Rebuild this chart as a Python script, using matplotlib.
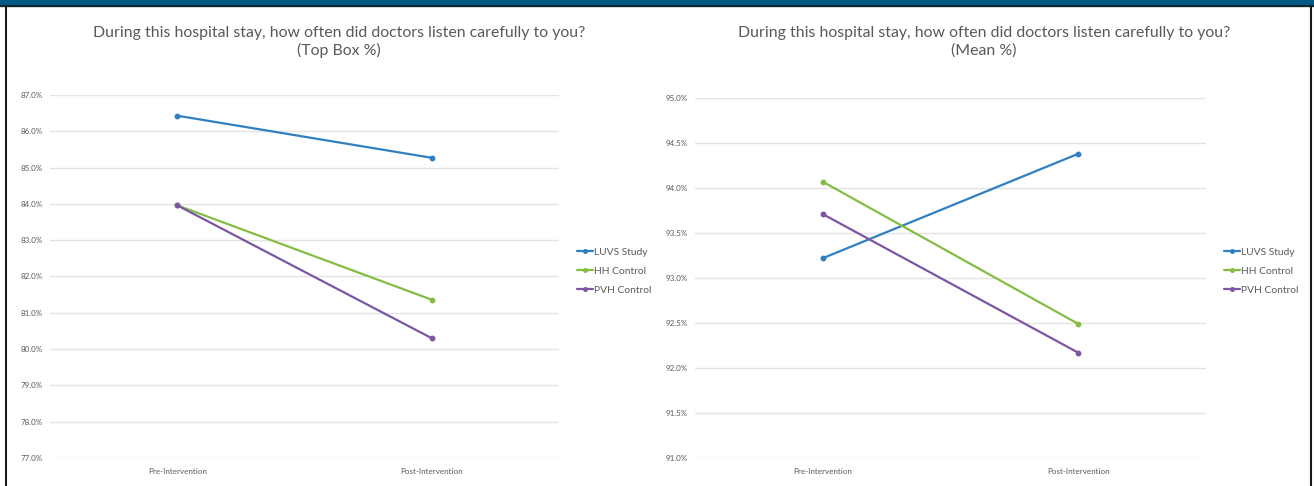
import matplotlib.pyplot as plt
from matplotlib.patches import Rectangle
from matplotlib.lines import Line2D
from matplotlib.ticker import FuncFormatter, MultipleLocator

categories = ["Pre-Intervention", "Post-Intervention"]
series = ["LUVS Study", "HH Control", "PVH Control"]
colors = ["#2f7fc1", "#84bd44", "#7b56a3"]

topbox_luvs = [86.43, 85.27]
topbox_hh = [83.96, 81.36]
topbox_pvh = [83.96, 80.30]

mean_luvs = [93.22, 94.38]
mean_hh = [94.07, 92.49]
mean_pvh = [93.71, 92.17]

question = "During this hospital stay, how often did doctors listen carefully to you?"

plt.rcParams['font.family'] = ['Lato', 'DejaVu Sans']
W, H = 1314, 486
fig = plt.figure(figsize=(W / 100, H / 100), dpi=100)
fig.patch.set_facecolor("white")

# header bar and panel borders
fig.patches.append(Rectangle((0, 1 - 6 / H), 1, 6 / H, transform=fig.transFigure,
                             color="#005a85", zorder=0))
fig.add_artist(Line2D([0, 1], [1 - 6.5 / H] * 2, color="#1a1a1a", lw=1.2))
fig.add_artist(Line2D([5.5 / W] * 2, [0, 1 - 6.5 / H], color="#1a1a1a", lw=1.5))
fig.add_artist(Line2D([1310.5 / W] * 2, [0, 1 - 6.5 / H], color="#1a1a1a", lw=1.5))

gray = "#595959"


def panel(rect, data, lo, hi, step, subtitle, title_x, legend_x):
    ax = fig.add_axes(rect)
    x = range(len(categories))
    for vals, name, c in zip(data, series, colors):
        ax.plot(x, vals, color=c, lw=1.6, marker="o", markersize=3.2, label=name,
                solid_capstyle="round")
    ax.set_xlim(-0.5, 1.5)
    ax.set_ylim(lo, hi)
    ax.yaxis.set_major_locator(MultipleLocator(step))
    ax.yaxis.set_major_formatter(FuncFormatter(lambda v, p: f"{v:.1f}%"))
    ax.set_xticks(list(x))
    ax.set_xticklabels(categories)
    ax.grid(axis="y", color="#e3e3e3", lw=1)
    ax.set_axisbelow(True)
    for s in ax.spines.values():
        s.set_visible(False)
    ax.tick_params(length=0, labelsize=5.8, labelcolor=gray, pad=5)
    ax.tick_params(axis="x", pad=7)
    fig.text(title_x / W, 1 - 42 / H, question + "\n" + subtitle, ha="center", va="center",
             fontsize=11.4, color=gray, linespacing=1.3)
    ax.legend(loc="center left", bbox_to_anchor=(legend_x / W, 1 - 271 / H),
              bbox_transform=fig.transFigure, frameon=False, fontsize=7.4,
              handlelength=1.5, handletextpad=0.15, labelspacing=0.95, borderpad=0,
              labelcolor=gray, markerscale=0.8)
    return ax


panel([50 / W, 1 - 458 / H, 509 / W, 363 / H],
      [topbox_luvs, topbox_hh, topbox_pvh], 77, 87, 1, "(Top Box %)", 339, 572)
panel([695 / W, 1 - 458 / H, 511 / W, 360 / H],
      [mean_luvs, mean_hh, mean_pvh], 91, 95, 0.5, "(Mean %)", 984, 1219)

fig.savefig("out.png", dpi=100, facecolor="white")
